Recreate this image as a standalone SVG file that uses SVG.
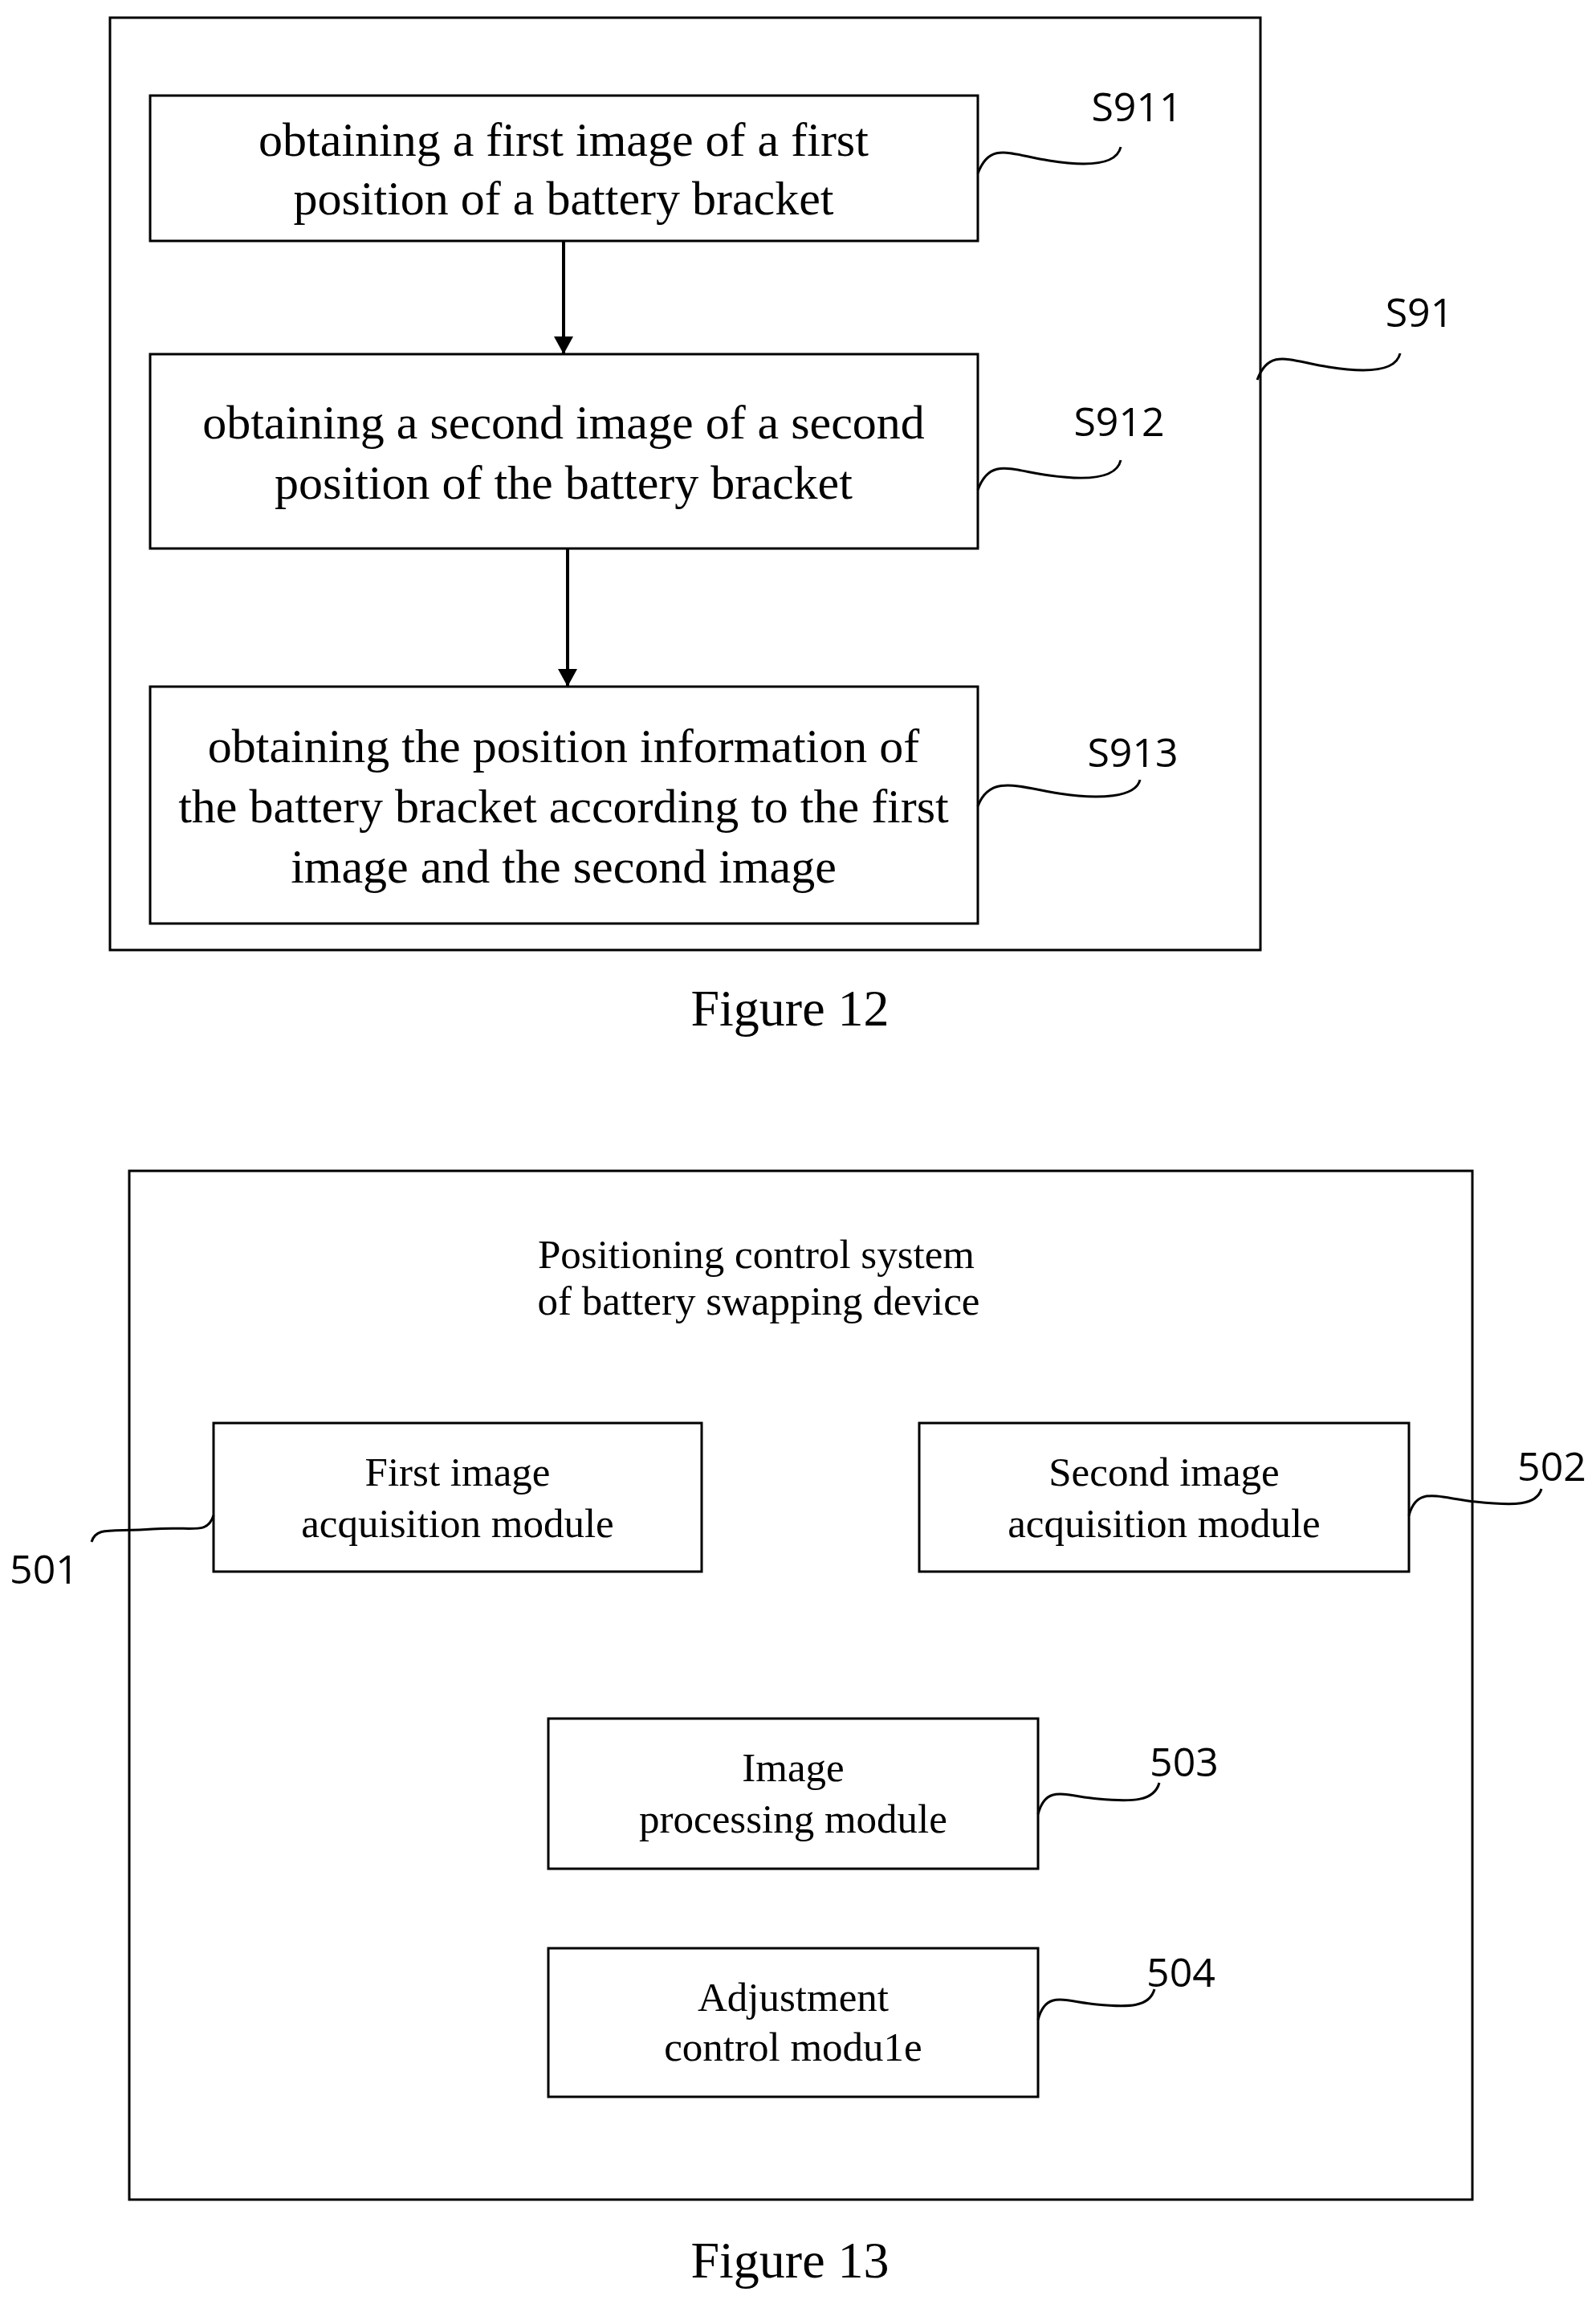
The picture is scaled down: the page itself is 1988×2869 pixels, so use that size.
<svg xmlns="http://www.w3.org/2000/svg" width="1988" height="2869" viewBox="0 0 1988 2869">
<style>
rect{fill:none;stroke:#000;stroke-width:3}
.t{font-family:"Liberation Serif",serif;font-size:60px;text-anchor:middle;fill:#000}
.t2{font-family:"Liberation Serif",serif;font-size:51px;text-anchor:middle;fill:#000}
.l{font-family:"Open Sans","Liberation Sans",sans-serif;font-size:50px;text-anchor:middle;fill:#000}
.sq{fill:none;stroke:#000;stroke-width:3}
.ar{stroke:#000;stroke-width:4;marker-end:url(#ah)}
</style>
<defs><marker id="ah" markerWidth="22" markerHeight="24" refX="22" refY="12" orient="auto" markerUnits="userSpaceOnUse" viewBox="0 0 22 24"><path d="M0 0L22 12L0 24z"/></marker></defs>
<rect x="0" y="0" width="1988" height="2869" style="fill:#fff;stroke:none"/>
<g id="S91"><rect x="137" y="22" width="1433" height="1161"/><text class="l" x="1768" y="407">S91</text></g>
<g id="S911"><rect x="187" y="119" width="1031" height="181"/><text class="t" x="702" y="194">obtaining a first image of a first</text><text class="t" x="702" y="267">position of a battery bracket</text><text class="l" x="1416" y="151">S911</text></g>
<g id="S912"><rect x="187" y="441" width="1031" height="242"/><text class="t" x="702" y="546">obtaining a second image of a second</text><text class="t" x="702" y="621">position of the battery bracket</text><text class="l" x="1394" y="543">S912</text></g>
<g id="S913"><rect x="187" y="855" width="1031" height="295"/><text class="t" x="702" y="949">obtaining the position information of</text><text class="t" x="702" y="1024">the battery bracket according to the first</text><text class="t" x="702" y="1099">image and the second image</text><text class="l" x="1411" y="955">S913</text></g>
<text class="t" x="984" y="1277" style="font-size:64px">Figure 12</text>
<g id="sys"><rect x="161" y="1458" width="1673" height="1281"/><text class="t2" x="942" y="1579">Positioning control system</text><text class="t2" x="945" y="1637">of battery swapping device</text></g>
<g id="n501"><rect x="266" y="1772" width="608" height="185"/><text class="t2" x="570" y="1850">First image</text><text class="t2" x="570" y="1914">acquisition module</text><text class="l" x="55" y="1972">501</text></g>
<g id="n502"><rect x="1145" y="1772" width="610" height="185"/><text class="t2" x="1450" y="1850">Second image</text><text class="t2" x="1450" y="1914">acquisition module</text><text class="l" x="1933" y="1844">502</text></g>
<g id="n503"><rect x="683" y="2140" width="610" height="187"/><text class="t2" x="988" y="2218">Image</text><text class="t2" x="988" y="2282">processing module</text><text class="l" x="1475" y="2212">503</text></g>
<g id="n504"><rect x="683" y="2426" width="610" height="185"/><text class="t2" x="988" y="2504">Adjustment</text><text class="t2" x="988" y="2566">control modu1e</text><text class="l" x="1471" y="2474">504</text></g>
<text class="t" x="984" y="2836" style="font-size:64px">Figure 13</text>
<g id="connectors">
<line class="ar" x1="702" y1="300" x2="702" y2="441"/>
<line class="ar" x1="707" y1="683" x2="707" y2="855"/>
<path class="sq" d="M1218 216 C1233 176 1257 192 1307 200 S1391 205 1396 183"/>
<path class="sq" d="M1218 610 C1233 570 1257 585 1307 592 S1391 595 1396 573"/>
<path class="sq" d="M1218 1004 C1233 964 1269 980 1319 988 S1415 993 1420 971"/>
<path class="sq" d="M1566 473 C1581 433 1605 449 1655 457 S1739 462 1744 440"/>
<path class="sq" d="M266 1887 C258 1912 240 1900 190 1904 S120 1900 114 1920"/>
<path class="sq" d="M1755 1887 C1765 1850 1790 1865 1838 1870 S1914 1875 1920 1854"/>
<path class="sq" d="M1293 2259 C1303 2222 1325 2236 1368 2240 S1438 2243 1444 2220"/>
<path class="sq" d="M1293 2515 C1303 2478 1325 2492 1366 2496 S1432 2499 1438 2477"/>
</g>
</svg>
